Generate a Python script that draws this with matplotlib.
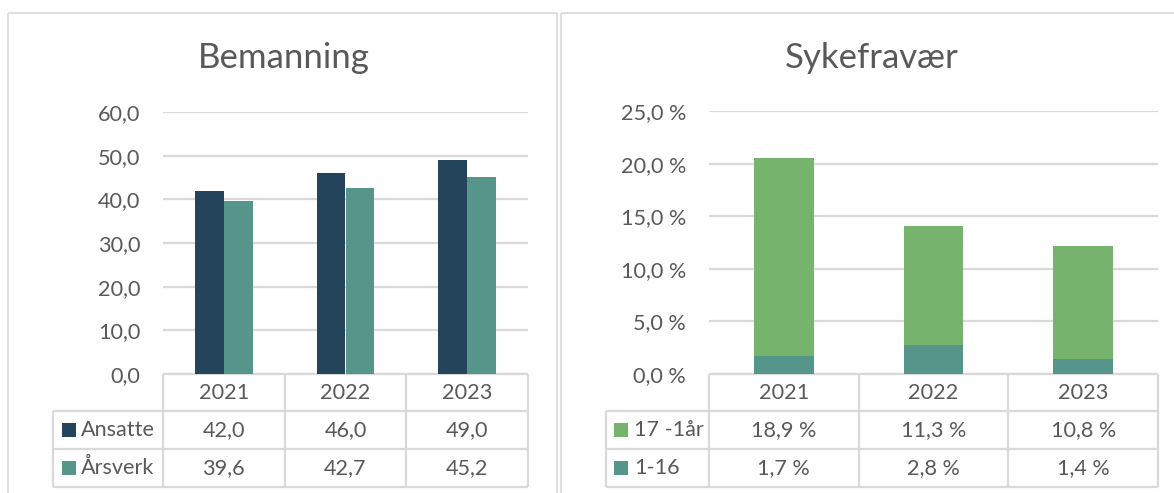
import matplotlib
matplotlib.use('Agg')
import matplotlib.pyplot as plt
from matplotlib.lines import Line2D
from matplotlib.patches import Rectangle

# ── Data ─────────────────────────────────────────────────────────────────────
years = ['2021', '2022', '2023']

ansatte = [42.0, 46.0, 49.0]
aarsverk = [39.6, 42.7, 45.2]
bem_series = ['Ansatte', 'Årsverk']
bem_ticks = [0, 10, 20, 30, 40, 50, 60]

syk_1_16 = [1.7, 2.8, 1.4]
syk_17_1 = [18.9, 11.3, 10.8]
syk_series = ['17 -1år', '1-16']
syk_ticks = [0, 5, 10, 15, 20, 25]

# ── Style ────────────────────────────────────────────────────────────────────
NAVY = '#24445C'
TEAL = '#56968A'
GREEN = '#76B46E'
TXT = '#595959'
GRID = '#D9D9D9'
FONT = ['Lato', 'DejaVu Sans']
FS = 15.6
plt.rcParams['font.family'] = FONT

W, H = 1174, 493
fig = plt.figure(figsize=(W / 100, H / 100), dpi=100)


def px_axes(x0, y0, x1, y1, **kw):
    return fig.add_axes([x0 / W, 1 - y1 / H, (x1 - x0) / W, (y1 - y0) / H], **kw)


# overlay in pixel coords for frames and tables
ov = px_axes(0, 0, W, H, zorder=0)
ov.set_xlim(0, W)
ov.set_ylim(H, 0)
ov.axis('off')


def hline(y, x0, x1, lw=1.6):
    ov.add_line(Line2D([x0, x1], [y, y], color=GRID, lw=lw, solid_capstyle='butt'))


def vline(x, y0, y1, lw=1.6):
    ov.add_line(Line2D([x, x], [y0, y1], color=GRID, lw=lw, solid_capstyle='butt'))


# panel frames
hline(12.5, 7.5, 557, lw=1.2)
vline(7.5, 12.5, H, lw=1.2)
vline(557, 12.5, H, lw=1.2)
hline(12.5, 561, W, lw=1.2)
vline(561, 12.5, H, lw=1.2)


def style_axes(ax, ticks, fmt, top):
    ax.set_xlim(-0.5, 2.5)
    ax.set_ylim(0, top)
    ax.set_yticks(ticks)
    ax.set_yticklabels([fmt(t) for t in ticks])
    ax.set_xticks([])
    for s in ax.spines.values():
        s.set_visible(False)
    ax.tick_params(axis='y', length=0, pad=16.5, labelsize=FS, labelcolor=TXT)
    ax.grid(True, axis='y', color=GRID, lw=1.6)
    ax.set_axisbelow(True)
    ax.patch.set_alpha(0)


def draw_table(x_left, x0, x1, rows, colors, labels, sq_x, txt_x):
    n = len(years)
    cw = (x1 - x0) / n
    edges = [x0 + i * cw for i in range(n + 1)]
    ys = [374, 411, 449, 487]
    hline(ys[0], x0, x1)
    for y in ys[1:]:
        hline(y, x_left, x1)
    for x in edges:
        vline(x, ys[0], ys[-1])
    vline(x_left, ys[1], ys[-1])
    for i, yr in enumerate(years):
        ov.text(x0 + (i + 0.5) * cw, 393, yr, ha='center', va='center',
                fontsize=FS, color=TXT)
    for r, (vals, col, lab) in enumerate(zip(rows, colors, labels)):
        yc = (ys[r + 1] + ys[r + 2]) / 2
        ov.add_patch(Rectangle((sq_x, yc - 7), 14, 14, color=col, lw=0))
        ov.text(txt_x, yc, lab, ha='left', va='center', fontsize=FS, color=TXT)
        for i, v in enumerate(vals):
            ov.text(x0 + (i + 0.5) * cw, yc, v, ha='center', va='center',
                    fontsize=FS, color=TXT)


# ── Bemanning ────────────────────────────────────────────────────────────────
ax1 = px_axes(163, 112, 528, 374, zorder=2)
x = range(len(years))
bw = 0.238
ax1.bar([i - bw / 2 for i in x], ansatte, bw, color=NAVY)
ax1.bar([i + bw / 2 for i in x], aarsverk, bw, color=TEAL)
style_axes(ax1, bem_ticks, lambda t: f'{t:.1f}'.replace('.', ','), 60)
ov.text(284, 58, 'Bemanning', ha='center', va='center', fontsize=25, color=TXT)
draw_table(53, 163, 528,
           [[f'{v:.1f}'.replace('.', ',') for v in ansatte],
            [f'{v:.1f}'.replace('.', ',') for v in aarsverk]],
           [NAVY, TEAL], bem_series, 62, 81)

# ── Sykefravær ───────────────────────────────────────────────────────────────
ax2 = px_axes(709, 111.3, 1158, 374, zorder=2)
bw2 = 0.4
ax2.bar(list(x), syk_1_16, bw2, color=TEAL)
ax2.bar(list(x), syk_17_1, bw2, bottom=syk_1_16, color=GREEN)
style_axes(ax2, syk_ticks, lambda t: f'{t:.1f} %'.replace('.', ','), 25)
ov.text(872, 58, 'Sykefravær', ha='center', va='center', fontsize=25, color=TXT)
draw_table(606, 709, 1158,
           [[f'{v:.1f} %'.replace('.', ',') for v in syk_17_1],
            [f'{v:.1f} %'.replace('.', ',') for v in syk_1_16]],
           [GREEN, TEAL], syk_series, 614, 634)

fig.savefig('out.png', dpi=100)
